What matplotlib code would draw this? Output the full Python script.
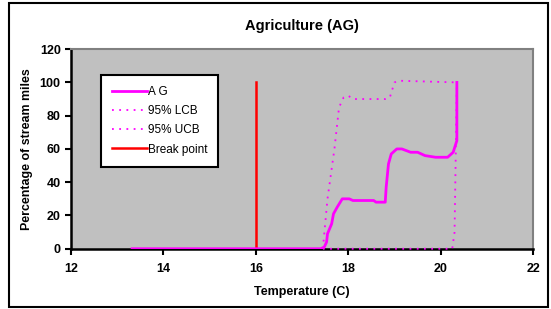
import matplotlib.pyplot as plt
from matplotlib.patches import Rectangle

plt.rcParams['font.family'] = ['Liberation Sans', 'DejaVu Sans']

# AG curve (temperature, percent of stream miles)
ag_x = [13.32, 17.40, 17.48, 17.53, 17.55, 17.64, 17.68, 17.76, 17.87, 18.02,
        18.10, 18.55, 18.60, 18.80, 18.82, 18.87, 18.93, 19.05, 19.16, 19.35,
        19.50, 19.66, 19.89, 20.15, 20.27, 20.35, 20.35]
ag_y = [0, 0, 1, 4, 9, 15, 21, 25, 30, 30,
        29, 29, 28, 28, 37, 51, 57, 60, 60, 58,
        58, 56, 55, 55, 58, 65, 100]

lcb_x = [17.45, 20.25, 20.30, 20.35]
lcb_y = [0, 0, 10, 100]

ucb_x = [17.45, 17.55, 17.70, 17.80, 17.90, 18.00, 18.10, 18.80, 18.90, 19.00,
         19.10, 20.35]
ucb_y = [0, 30, 60, 85, 91, 92, 90, 90, 91, 100, 101, 100]

break_x = [16, 16]
break_y = [0, 100]

fig = plt.figure(figsize=(5.51, 3.09), dpi=100)
fig.patches.append(Rectangle((0.016, 0.007), 0.978, 0.983, transform=fig.transFigure,
                             fill=False, edgecolor='black', linewidth=1.5))
ax = fig.add_axes([0.129, 0.195, 0.8385, 0.646])
ax.set_facecolor('#C0C0C0')

ax.plot(ag_x, ag_y, color='#FF00FF', linewidth=2, label='A G', zorder=4)
ax.plot(lcb_x, lcb_y, color='#FF00FF', linewidth=1.3, linestyle=(0, (1, 3)),
        label='95% LCB', zorder=5, clip_on=False)
ax.plot(ucb_x, ucb_y, color='#FF00FF', linewidth=1.3, linestyle=(0, (1, 3)), label='95% UCB')
ax.plot(break_x, break_y, color='#FF0000', linewidth=1.8, label='Break point', zorder=3)

ax.set_xlim(12, 22)
ax.set_ylim(0, 120)
ax.set_xticks([12, 14, 16, 18, 20, 22])
ax.set_yticks([0, 20, 40, 60, 80, 100, 120])

for s in ['top', 'right']:
    ax.spines[s].set_color('#808080')
    ax.spines[s].set_linewidth(1.5)
for s in ['left', 'bottom']:
    ax.spines[s].set_color('black')
    ax.spines[s].set_linewidth(1.8)

ax.tick_params(direction='out', length=4, width=1.5, labelsize=9)
ax.tick_params(axis='x', pad=6)
for lab in ax.get_xticklabels() + ax.get_yticklabels():
    lab.set_fontweight('bold')

ax.set_title('Agriculture (AG)', fontsize=10.5, fontweight='bold', pad=14)
ax.set_xlabel('Temperature (C)', fontsize=9, fontweight='bold', labelpad=8)
ax.set_ylabel('Percentage of stream miles', fontsize=8.9, fontweight='bold', labelpad=5)

leg = ax.legend(loc='upper left', bbox_to_anchor=(0.065, 0.87), fontsize=8.5,
                frameon=True, fancybox=False, handlelength=2.9, handletextpad=0.1,
                borderpad=0.95, labelspacing=0.6, borderaxespad=0)
leg.get_frame().set_edgecolor('black')
leg.get_frame().set_linewidth(1.5)
leg.get_frame().set_facecolor('white')
leg.get_frame().set_alpha(1)

fig.savefig('out.png', dpi=100)
